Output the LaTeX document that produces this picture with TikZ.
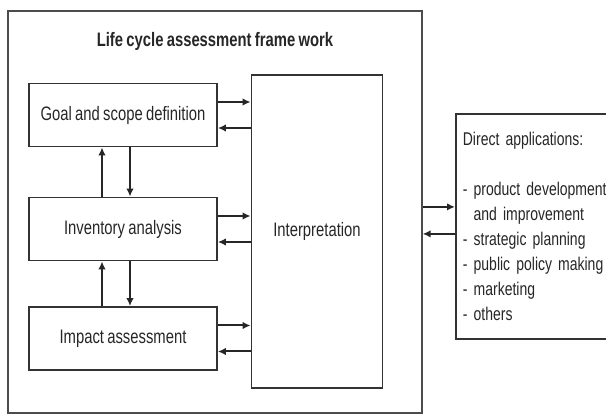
\documentclass[tikz,border=0pt]{standalone}
\usepackage{fontspec}
\setmainfont{Liberation Sans}[FakeStretch=0.76, WordSpace=0.8]
\usetikzlibrary{arrows.meta,positioning,calc}

\tikzset{
  phase/.style={draw=black!80, line width=1.8pt, minimum width=188pt, minimum height=63pt, text=black!85},
  arr/.style={line width=2pt, draw=black!85, -{Latex[length=8pt,width=7.5pt]}},
}

\begin{document}
\begin{tikzpicture}[x=1pt, y=-1pt, font=\fontsize{19.5}{25}\selectfont]
    \useasboundingbox (0,0) rectangle (606,414);
    \clip (0,0) rectangle (606,414);

    % outer frame and its title
    \node[draw=black!70, line width=1.3pt, minimum width=414pt, minimum height=402pt] (frame) at (215,212) {};
    \node[text=black!85] (title) at (215,41) {\textbf{Life cycle assessment frame work}};

    % the three phases
    \node[phase] (goal) at (123,115) {Goal and scope definition};
    \node[phase] (inv) at (123,229) {Inventory analysis};
    \node[phase] (imp) at (123,338.5) {Impact assessment};

    \node[phase, minimum width=131pt, minimum height=313pt] (interp) at (317,231.5) {Interpretation};

    % arrows to and from interpretation
    \foreach \n in {goal,inv,imp} {
        \draw[arr] ($(\n.east)+(0,-13)$) -- ($(\n.east -| interp.west)+(0,-13)$);
        \draw[arr] ($(\n.east -| interp.west)+(0,13)$) -- ($(\n.east)+(0,13)$);
    }

    % up and down between phases
    \foreach \a/\b in {goal/inv, inv/imp} {
        \draw[arr] ($(\b.north)+(-21,0)$) -- ($(\a.south)+(-21,0)$);
        \draw[arr] ($(\a.south)+(7,0)$) -- ($(\b.north)+(7,0)$);
    }

    % direct applications
    \node[draw=black!80, line width=1.8pt, anchor=north west, minimum width=200pt, minimum height=225pt,
          text width=186pt, inner xsep=5pt, align=left, text=black!85,
          font=\fontsize{18.4}{25}\selectfont] (app) at (455,113)
        {Direct applications:\\[25pt]
         - product development\\
         \hphantom{- }and improvement\\
         - strategic planning\\
         - public policy making\\
         - marketing\\
         - others};

    \draw[arr] ($(app.west -| frame.east)+(0,-19.5)$) -- ($(app.west)+(0,-19.5)$);
    \draw[arr] ($(app.west)+(0,7.5)$) -- ($(app.west -| frame.east)+(0,7.5)$);
\end{tikzpicture}
\end{document}
